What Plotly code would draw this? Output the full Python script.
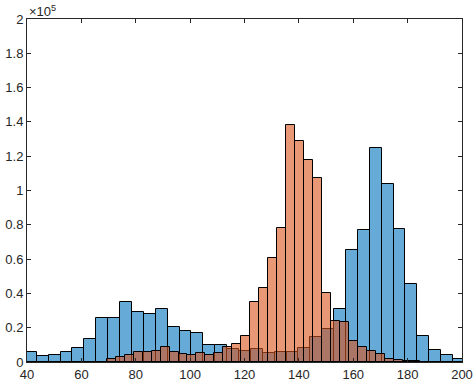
import plotly.graph_objects as go

# histogram bins (counts per bin)
blue_start = 39.23
blue_width = 4.374
blue_counts = [5800, 3400, 4200, 5900, 8000, 13500, 25500, 25500, 34900, 29200,
               28100, 31000, 20500, 18200, 17000, 9900, 9900, 7300, 6700, 7300,
               5300, 5900, 5900, 7900, 14700, 19400, 31000, 65300, 77100, 124700,
               103800, 77500, 45500, 15000, 7100, 4000, 1900]

orange_start = 69.36
orange_width = 3.296
orange_counts = [1900, 2700, 3800, 5900, 5900, 6500, 8700, 5900, 4800, 4100,
                 5400, 4100, 5400, 9000, 10600, 15000, 35000, 43200, 60700, 78300,
                 138100, 128600, 117500, 107200, 40400, 24000, 23200, 12300, 8800, 6500,
                 4900, 1900, 1300, 700, 400, 200]

x_ticks = [40, 60, 80, 100, 120, 140, 160, 180, 200]
y_ticks = [0, 20000, 40000, 60000, 80000, 100000, 120000, 140000, 160000, 180000, 200000]
y_ticktext = ['0', '0.2', '0.4', '0.6', '0.8', '1', '1.2', '1.4', '1.6', '1.8', '2']


def centers(start, width, n):
    return [start + width * (i + 0.5) for i in range(n)]


axis_col = 'rgb(38,38,38)'
fig = go.Figure()
fig.add_trace(go.Bar(
    x=centers(blue_start, blue_width, len(blue_counts)),
    y=blue_counts,
    width=blue_width,
    marker=dict(color='rgba(0,114,189,0.6)', line=dict(color='black', width=1)),
    showlegend=False))
fig.add_trace(go.Bar(
    x=centers(orange_start, orange_width, len(orange_counts)),
    y=orange_counts,
    width=orange_width,
    marker=dict(color='rgba(217,83,25,0.6)', line=dict(color='black', width=1)),
    showlegend=False))

axis_common = dict(showgrid=False, zeroline=False, showline=True, linecolor=axis_col,
                   linewidth=1, mirror='ticks', ticks='inside', ticklen=4, automargin=False,
                   tickcolor=axis_col, tickfont=dict(family='Liberation Sans, Arial', size=13, color=axis_col))

fig.update_layout(
    barmode='overlay',
    bargap=0,
    width=475, height=385,
    margin=dict(l=27, r=13, t=19, b=23),
    plot_bgcolor='white', paper_bgcolor='white',
    xaxis=dict(range=[40, 200], tickvals=x_ticks, ticklabeloverflow='allow', **axis_common),
    yaxis=dict(range=[0, 200000], tickvals=y_ticks, ticktext=y_ticktext, **axis_common),
    annotations=[dict(text='\u00d710<sup>5</sup>', xref='paper', yref='paper', x=0, y=1,
                      xanchor='left', yanchor='bottom', yshift=-2, showarrow=False,
                      font=dict(family='Liberation Sans, Arial', size=13, color=axis_col))],
)

# drop the default page margin so the figure sits at the window's corner
fig.write_html("out.html", config={'displayModeBar': False},
               post_script="document.body.style.margin='0';")
